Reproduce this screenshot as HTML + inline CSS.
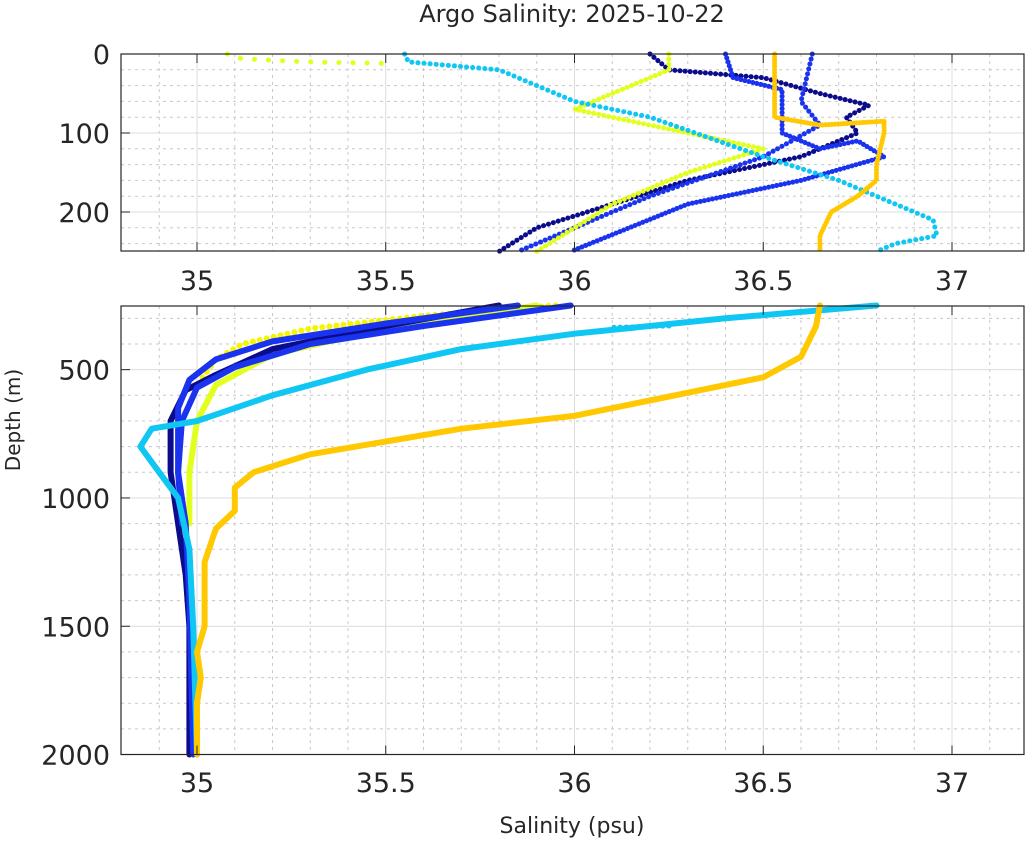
<!DOCTYPE html>
<html><head><meta charset="utf-8"><style>
body{margin:0;background:#fff;width:1029px;height:841px;overflow:hidden}
svg text{font-family:"DejaVu Sans","Liberation Sans",sans-serif;fill:#262626}
</style></head><body>
<svg id="s" width="1029" height="841" xmlns="http://www.w3.org/2000/svg"></svg>
<script>
const S=document.getElementById('s');let h='';
const X=v=>197+(v-35)*377.5;
const A={top:54,bot:251,y:d=>54+d*0.79};
const B={top:306,bot:754.5,y:d=>305.5+(d-250)*0.2566};
const L=121,R=1024;
function grid(P,minY,majY,d0,d1){
 for(let v=34.9;v<37.2;v+=0.1){const x=X(v);if(x<=L||x>=R)continue;
  const maj=Math.abs(v*2-Math.round(v*2))<1e-6;
  h+=`<line x1="${x}" x2="${x}" y1="${P.top}" y2="${P.bot}" stroke="${maj?'#dcdcdc':'#c8c8c8'}" stroke-width="1" ${maj?'':'stroke-dasharray="3,4"'}/>`;}
 for(let d=d0;d<=d1;d+=minY){const y=P.y(d);if(y<=P.top+0.5||y>=P.bot-0.5)continue;
  const maj=d%majY==0;
  h+=`<line x1="${L}" x2="${R}" y1="${y}" y2="${y}" stroke="${maj?'#dcdcdc':'#c8c8c8'}" ${maj?'':'stroke-dasharray="3,4"'}/>`;}
}
grid(A,20,100,0,250);grid(B,100,500,300,2000);
function line(P,pts,c,w,dash){h+=`<polyline fill="none" stroke="${c}" stroke-width="${w}" stroke-linejoin="round" stroke-linecap="round" ${dash?'stroke-dasharray="'+dash+'"':''} points="${pts.map(p=>X(p[0]).toFixed(1)+','+P.y(p[1]).toFixed(1)).join(' ')}"/>`;}
const NV='#0c0c8a',BL='#1a33ee',YG='#e2ff1e',YE='#f5f500',CY='#10c6f2',OR='#ffc800';
// top panel
line(A,[[35.08,0],[35.1,5],[35.2,8],[35.3,10],[35.5,12]],YG,5,'0.1,14');
line(A,[[36.2,0],[36.25,20],[36.5,30],[36.65,50],[36.78,65],[36.72,80],[36.75,100],[36.6,130],[36.3,160],[36.1,190],[35.9,220],[35.8,250]],NV,5,'0.1,5');
line(A,[[36.63,0],[36.6,60],[36.65,90],[36.5,130],[36.2,180],[35.85,250]],BL,5,'0.1,5');
line(A,[[36.4,0],[36.42,30],[36.55,45],[36.55,100],[36.65,120],[36.75,110],[36.82,130],[36.6,160],[36.3,190],[35.99,250]],BL,5,'0.1,4');
line(A,[[36.25,0],[36.25,20],[36.1,50],[36.0,70],[36.4,110],[36.5,120],[36.3,150],[36.1,190],[35.9,250]],YG,5,'0.1,5');
line(A,[[35.55,0],[35.56,10],[35.8,20],[36.0,60],[36.2,80],[36.5,130],[36.7,160],[36.85,190],[36.95,210],[36.96,230],[36.85,240],[36.8,250]],CY,5,'0.1,6');
line(A,[[36.53,0],[36.53,80],[36.65,90],[36.82,85],[36.82,100],[36.8,140],[36.8,160],[36.75,180],[36.68,200],[36.65,230],[36.65,250]],OR,5,'0.1,3');
// bottom panel
line(B,[[35.95,250],[35.6,290],[35.3,340],[35.12,400],[35.05,460],[35.03,500],[35.0,560]],YE,6,'0.1,7');
line(B,[[35.9,250],[35.5,340],[35.2,440],[35.05,560],[35.0,700],[34.98,900],[34.98,1100]],YG,6);
line(B,[[35.8,250],[35.5,330],[35.2,420],[35.05,520],[34.97,580],[34.93,700],[34.93,900],[34.95,1100],[34.97,1300],[34.98,1500],[34.98,2000]],NV,6);
line(B,[[35.85,250],[35.5,320],[35.2,390],[35.05,460],[34.98,540],[34.95,650],[34.95,900],[34.96,1100]],BL,6);
line(B,[[35.99,250],[35.6,330],[35.3,400],[35.1,490],[35.0,570],[34.96,700],[34.95,900],[34.97,1100],[34.98,1400],[34.99,2000]],BL,6);
line(B,[[36.25,330],[36.1,335]],CY,5,'0.1,6');
line(B,[[36.8,250],[36.4,300],[36.0,360],[35.7,420],[35.45,500],[35.2,600],[35.0,700],[34.88,730],[34.85,800],[34.9,900],[34.95,1000],[34.98,1200],[34.99,1500],[35.0,2000]],CY,6,'');
line(B,[[36.65,250],[36.64,330],[36.6,450],[36.5,530],[36.2,620],[36.0,680],[35.7,730],[35.5,780],[35.3,830],[35.15,900],[35.1,960],[35.1,1050],[35.05,1120],[35.02,1250],[35.02,1400],[35.02,1500],[35.0,1600],[35.01,1700],[35.0,1800],[35.0,2000]],OR,6);
// frames
for(const P of [A,B]){h+=`<rect x="${L}" y="${P.top}" width="${R-L}" height="${P.bot-P.top}" fill="none" stroke="#262626" stroke-width="1.2"/>`;
 for(const v of [35,35.5,36,36.5,37]){const x=X(v);h+=`<line x1="${x}" x2="${x}" y1="${P.top}" y2="${P.top+9}" stroke="#262626"/><line x1="${x}" x2="${x}" y1="${P.bot}" y2="${P.bot-9}" stroke="#262626"/>`;}}
for(const d of [0,100,200]){h+=`<line x1="${L}" x2="${L+9}" y1="${A.y(d)}" y2="${A.y(d)}" stroke="#262626"/><text x="110" y="${A.y(d)+10}" font-size="27" text-anchor="end">${d}</text>`;}
for(const d of [500,1000,1500,2000]){h+=`<line x1="${L}" x2="${L+9}" y1="${B.y(d)}" y2="${B.y(d)}" stroke="#262626"/><text x="110" y="${B.y(d)+10}" font-size="27" text-anchor="end">${d}</text>`;}
for(const [v,t] of [[35,'35'],[35.5,'35.5'],[36,'36'],[36.5,'36.5'],[37,'37']]){
 h+=`<text x="${X(v)}" y="290" font-size="27" text-anchor="middle">${t}</text><text x="${X(v)}" y="792" font-size="27" text-anchor="middle">${t}</text>`;}
h+=`<text x="572" y="22" font-size="24" text-anchor="middle">Argo Salinity: 2025-10-22</text>`;
h+=`<text x="572" y="833" font-size="22" text-anchor="middle">Salinity (psu)</text>`;
h+=`<text transform="translate(20,420) rotate(-90)" font-size="20" text-anchor="middle">Depth (m)</text>`;
S.innerHTML=h;
</script>
</body></html>
